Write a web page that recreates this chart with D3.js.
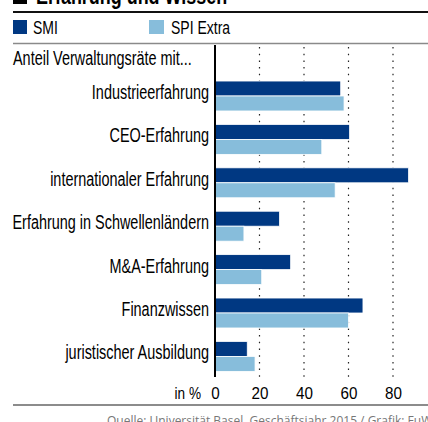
<!DOCTYPE html>
<html><head><meta charset="utf-8">
<script src="https://cdn.jsdelivr.net/npm/d3@7"></script>
<style>
body{margin:0;background:#fff;}
svg{display:block;}
text{font-family:"Liberation Sans",Arial,sans-serif;}
</style></head>
<body><svg id="c" width="428" height="422"></svg>
<script>
const categories = ["Industrieerfahrung","CEO-Erfahrung","internationaler Erfahrung","Erfahrung in Schwellenländern","M&A-Erfahrung","Finanzwissen","juristischer Ausbildung"];
const seriesNames = ["SMI","SPI Extra"];
const smi = [56.5,60.5,87,29,34,66.5,14.5];
const spiExtra = [58,48,54,13,21,60,18];
const ticks = [0,20,40,60,80];
const colors = ["#003882","#87bddb"];

function condense(sel, k){
  sel.each(function(){
    const w = this.getComputedTextLength();
    d3.select(this).attr("textLength", w*k).attr("lengthAdjust","spacingAndGlyphs");
  });
  return sel;
}

const svg = d3.select("#c");
const x = d3.scaleLinear().domain([0,100]).range([215,437.5]);
const y = d3.scaleBand().domain(categories).range([74.3,378.1]).paddingInner(0.31).paddingOuter(0.155);
const sub = d3.scaleBand().domain(seriesNames).range([0,y.bandwidth()]);

// title (cut off at top)
svg.append("rect").attr("x",13).attr("y",-12).attr("width",14).attr("height",16).attr("fill","#000");
condense(svg.append("text").attr("x",36).attr("y",4).attr("font-size",23).attr("font-weight","bold").text("Erfahrung und Wissen"), 0.78);
svg.append("line").attr("x1",13).attr("x2",428).attr("y1",12).attr("y2",12).attr("stroke","#111").attr("stroke-width",2.2);

// legend
const lg = svg.append("g");
[[13,33],[149,171]].forEach((p,i)=>{
  lg.append("rect").attr("x",p[0]).attr("y",20).attr("width",i?15:14).attr("height",14).attr("fill",colors[i]);
  condense(lg.append("text").attr("x",p[1]).attr("y",34).attr("font-size",17.5).text(seriesNames[i]), 0.8);
});
svg.append("line").attr("x1",13).attr("x2",428).attr("y1",43.5).attr("y2",43.5).attr("stroke","#8a8a8a").attr("stroke-width",1.5);

condense(svg.append("text").attr("x",13).attr("y",65).attr("font-size",19.5).text("Anteil Verwaltungsräte mit..."), 0.74);

// gridlines
svg.append("g").selectAll("line").data(ticks.filter(t=>t>0)).join("line")
  .attr("x1",d=>x(d)).attr("x2",d=>x(d)).attr("y1",47).attr("y2",377)
  .attr("stroke","#222").attr("stroke-width",1.2).attr("stroke-dasharray","1.5,5.2");

// bars
const series = [smi, spiExtra];
categories.forEach((c,ci)=>{
  series.forEach((s,si)=>{
    svg.append("rect")
      .attr("x",x(0)).attr("y",y(c)+sub(seriesNames[si]))
      .attr("width",x(s[ci])-x(0)).attr("height",sub.bandwidth())
      .attr("fill",colors[si]).attr("stroke","#fff").attr("stroke-width",0.8);
  });
});

// category labels
condense(svg.append("g").selectAll("text").data(categories).join("text")
  .attr("x",209).attr("y",d=>y(d)+y.bandwidth()/2+3)
  .attr("text-anchor","end").attr("font-size",19.5).text(d=>d), 0.74);

// axis line
svg.append("line").attr("x1",215).attr("x2",215).attr("y1",45).attr("y2",377).attr("stroke","#000").attr("stroke-width",2);

// x axis tick labels
const ax = d3.axisBottom(x).tickValues(ticks).tickSize(0).tickPadding(0);
const axg = svg.append("g").attr("transform","translate(0,399)").call(ax);
axg.select(".domain").remove();
axg.selectAll("text").attr("font-size",16).attr("fill","#000").attr("dy","0")
  .style("font-family",'"Liberation Sans",Arial,sans-serif');
condense(axg.selectAll("text"), 0.95);
condense(svg.append("text").attr("x",201).attr("y",399).attr("text-anchor","end").attr("font-size",16).text("in %"), 0.85);

// bottom
svg.append("line").attr("x1",13).attr("x2",428).attr("y1",405).attr("y2",405).attr("stroke","#666").attr("stroke-width",1.5);
svg.append("text").attr("x",107).attr("y",425).attr("font-size",12).attr("fill","#777")
  .style("font-family",'"Open Sans",sans-serif').text("Quelle: Universität Basel, Geschäftsjahr 2015 / Grafik: FuW, sc");
</script></body></html>
